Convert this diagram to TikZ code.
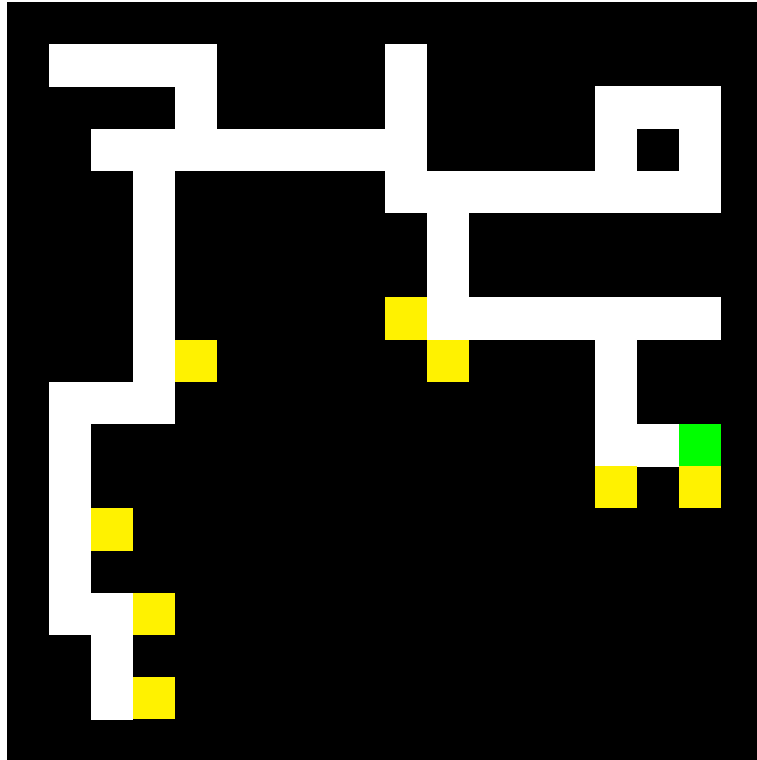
\documentclass[tikz,border=0pt]{standalone}
\begin{document}
\begin{tikzpicture}[x=1pt,y=-1pt,
  path/.style={fill=white},
  coin/.style={fill=yellow},
  goal/.style={fill=green}]
\useasboundingbox (0,0) rectangle (757,760);
\fill[white] (0,0) rectangle (757,760);
\fill[black] (7,2) rectangle (757,760);
% corridor cells (column/row)
\foreach \c/\r in {1/1,2/1,3/1,4/1,9/1,
  4/2,9/2,14/2,15/2,16/2,
  2/3,3/3,4/3,5/3,6/3,7/3,8/3,9/3,14/3,16/3,
  3/4,9/4,10/4,11/4,12/4,13/4,14/4,15/4,16/4,
  3/5,10/5,3/6,10/6,
  3/7,10/7,11/7,12/7,13/7,14/7,15/7,16/7,
  3/8,14/8,
  1/9,2/9,3/9,14/9,
  1/10,14/10,15/10,
  1/11,1/12,1/13,1/14,2/14,2/15,2/16}
  \fill[path] ({7+42*\c},{2+42.2*\r}) rectangle ++(42.4,42.6);
% yellow cells
\foreach \c/\r in {9/7,4/8,10/8,14/11,16/11,2/12,3/14,3/16}
  \fill[coin] ({7+42*\c},{2+42.2*\r}) rectangle ++(42,42.2);
% green cell
\foreach \c/\r in {16/10}
  \fill[goal] ({7+42*\c},{2+42.2*\r}) rectangle ++(42,42.2);
\end{tikzpicture}
\end{document}
